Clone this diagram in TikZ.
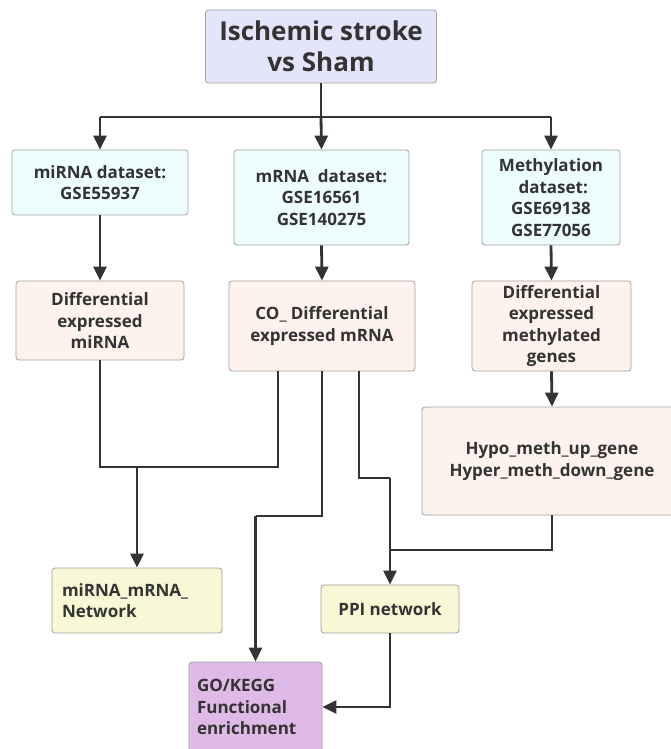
\documentclass[tikz,border=0pt]{standalone}
\usepackage{fontspec}
\setmainfont{Open Sans}
\usetikzlibrary{arrows.meta,positioning}

\definecolor{boxline}{HTML}{A0A0A0}
\definecolor{arrline}{HTML}{333333}
\definecolor{topfill}{HTML}{E4E4FA}
\definecolor{datafill}{HTML}{EEFDFE}
\definecolor{difffill}{HTML}{FDF2EC}
\definecolor{netfill}{HTML}{F8F8D6}
\definecolor{gofill}{HTML}{DFBAE6}

\tikzset{
  box/.style={draw=boxline,line width=.8pt,rounded corners=3pt,align=center,
    inner sep=2pt,font=\fontsize{17}{21.5}\selectfont\bfseries,text=arrline},
  arr/.style={draw=arrline,line width=2.8pt,-{Triangle[length=14pt,width=13pt]}},
  link/.style={draw=arrline,line width=2.8pt}
}

\begin{document}
\begin{tikzpicture}[x=1pt,y=1pt]
\useasboundingbox (0,0) rectangle (670,-749);
% boxes
\node[box,fill=topfill,minimum width=231,minimum height=73,font=\fontsize{26}{31}\selectfont\bfseries] (top) at (321,-46.5) {Ischemic stroke\\vs Sham};
\node[box,fill=datafill,minimum width=176,minimum height=65] (mirnads) at (100,-182.5) {miRNA dataset:\\GSE55937};
\node[box,fill=datafill,minimum width=175,minimum height=95] (mrnads) at (321.5,-197.5) {mRNA\ \ dataset:\\GSE16561\\GSE140275};
\node[box,fill=datafill,minimum width=138,minimum height=95] (methds) at (551,-197.5) {Methylation\\\ dataset:\\GSE69138\\GSE77056};
\node[box,fill=difffill,minimum width=168,minimum height=79] (mirnadiff) at (100,-320.5) {Differential\\expressed\\miRNA};
\node[box,fill=difffill,minimum width=186,minimum height=90] (codiff) at (322,-326) {CO\_ Differential\\expressed mRNA};
\node[box,fill=difffill,minimum width=159,minimum height=90] (methdiff) at (551.5,-326) {Differential\\expressed\\methylated\\genes};
\node[box,fill=difffill,minimum width=260,minimum height=108] (hypo) at (552,-461) {Hypo\_meth\_up\_gene\\Hyper\_meth\_down\_gene};
\node[box,fill=netfill,minimum width=170,minimum height=65,align=left,text width=150] (net) at (137,-600.5) {miRNA\_mRNA\_\\Network};
\node[box,fill=netfill,minimum width=138,minimum height=48] (ppi) at (390,-609) {PPI network};
\node[box,fill=gofill,minimum width=133,minimum height=90,align=left,text width=117] (go) at (255.5,-707) {GO/KEGG\\Functional\\enrichment};
% turning points
\coordinate (split) at (321,-117);
\coordinate (joinA) at (137,-467);
\coordinate (turnB) at (255.5,-516);
\coordinate (turnC) at (390,-478);
\coordinate (joinD) at (390,-550);
% connectors
\draw[link] (top.south) -- (split);
\draw[link] (mirnads.north |- split) -- (methds.north |- split);
\draw[arr] (mirnads.north |- split) -- (mirnads.north);
\draw[arr] (split) -- (mrnads.north);
\draw[arr] (methds.north |- split) -- (methds.north);
\draw[arr] (mirnads.south) -- (mirnadiff.north);
\draw[arr] (mrnads.south) -- (codiff.north);
\draw[arr] (methds.south) -- (methdiff.north);
\draw[arr] (methdiff.south) -- (hypo.north);
\draw[link] (mirnadiff.south) |- (joinA);
\draw[link] ([xshift=-44pt]codiff.south) |- (joinA);
\draw[arr] (joinA) -- (net.north);
\draw[link] (codiff.south) |- (turnB);
\draw[arr] (turnB) -- (go.north);
\draw[link] ([xshift=37pt]codiff.south) |- (turnC);
\draw[arr] (turnC) -- (ppi.north);
\draw[link] (hypo.south) |- (joinD);
\draw[arr] (ppi.south) |- (go.east);
\end{tikzpicture}
\end{document}
